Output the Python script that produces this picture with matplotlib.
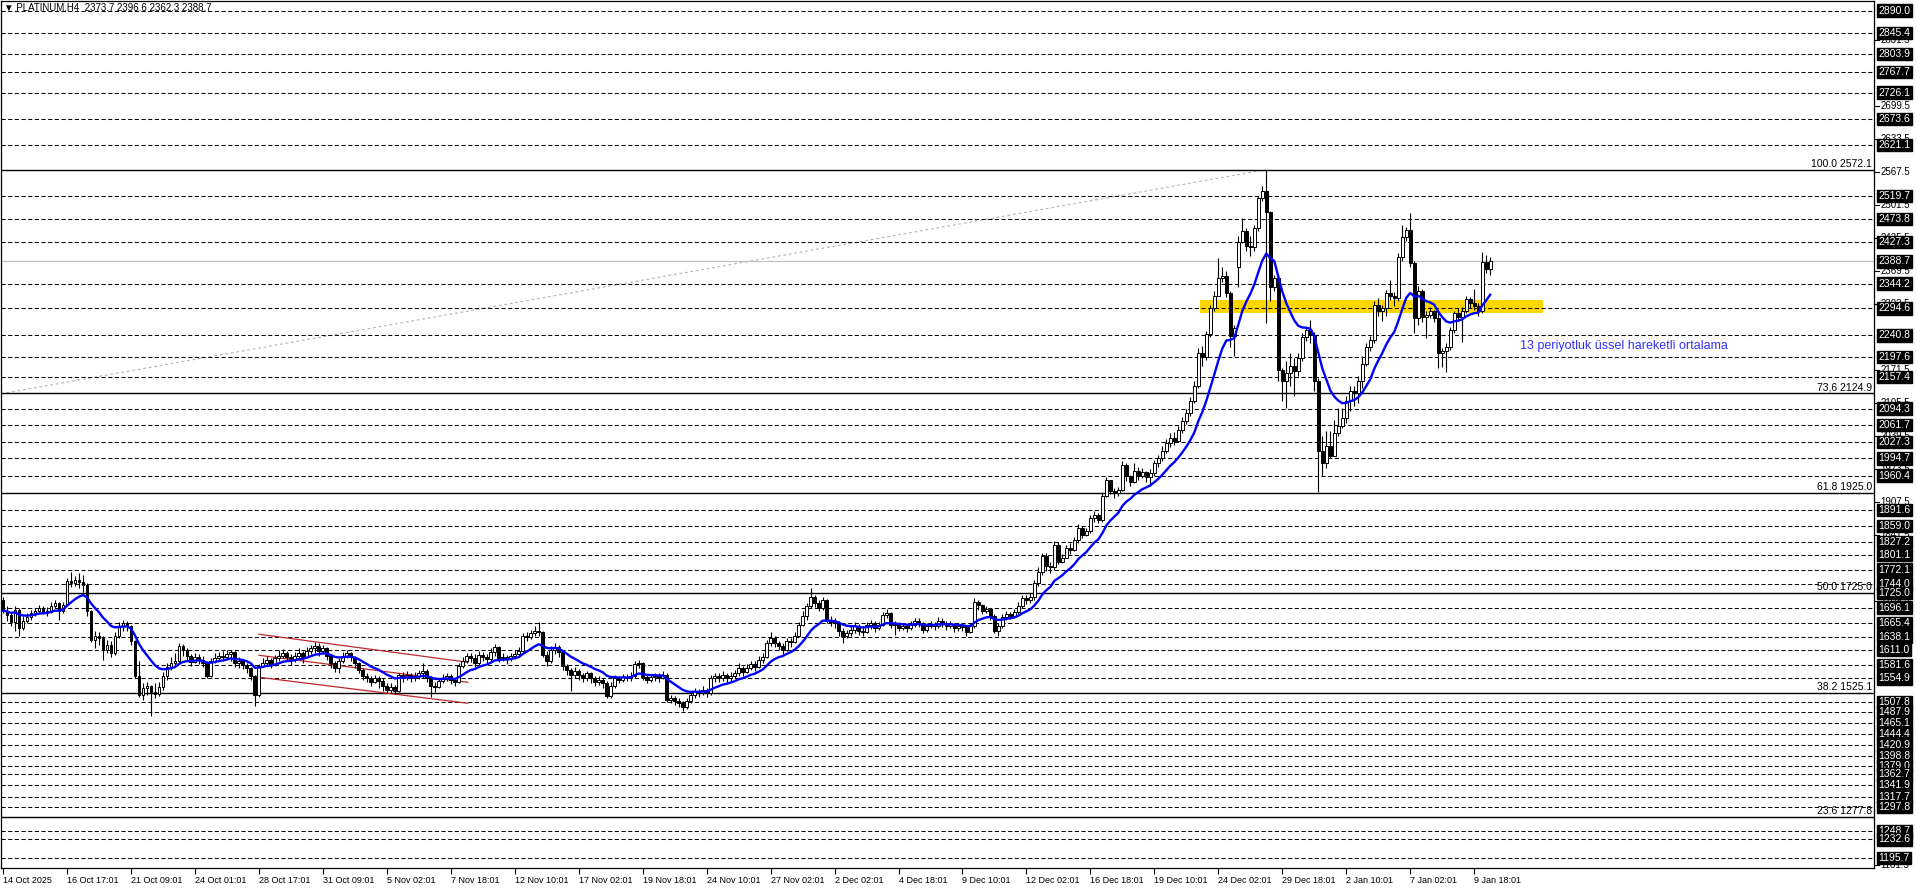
import numpy as np
import pandas as pd
import matplotlib
matplotlib.use('Agg')
import matplotlib.pyplot as plt
import matplotlib.patches as patches
import matplotlib.transforms as mtransforms

# H4 candles, one row of 16 bars per x-axis label
close = [
    1690, 1682, 1668, 1692, 1656, 1670, 1678, 1686, 1690, 1696, 1690, 1688, 1700, 1706, 1690, 1702,
    1750, 1745, 1752, 1748, 1742, 1690, 1632, 1640, 1636, 1612, 1622, 1606, 1640, 1660, 1665, 1660,
    1630, 1560, 1522, 1535, 1540, 1528, 1524, 1538, 1560, 1578, 1585, 1590, 1620, 1612, 1600, 1588,
    1598, 1592, 1585, 1560, 1590, 1596, 1600, 1598, 1604, 1608, 1585, 1590, 1582, 1575, 1560, 1522,
    1580, 1586, 1592, 1582, 1595, 1600, 1606, 1598, 1592, 1600, 1606, 1598, 1610, 1616, 1620, 1610,
    1615, 1600, 1585, 1575, 1590, 1600, 1605, 1598, 1585, 1572, 1560, 1556, 1548, 1556, 1550, 1540,
    1532, 1538, 1530, 1562, 1558, 1562, 1555, 1560, 1565, 1570, 1556, 1540, 1538, 1550, 1556, 1560,
    1552, 1548, 1580, 1590, 1600, 1596, 1585, 1602, 1598, 1594, 1608, 1618, 1596, 1598, 1594, 1600,
    1604, 1610, 1640, 1638, 1645, 1650, 1648, 1602, 1590, 1612, 1618, 1608, 1580, 1572, 1562, 1570,
    1562, 1556, 1565, 1555, 1548, 1552, 1545, 1520, 1540, 1556, 1552, 1558, 1556, 1560, 1584, 1586,
    1558, 1552, 1558, 1560, 1556, 1562, 1512, 1516, 1510, 1506, 1498, 1510, 1522, 1530, 1526, 1532,
    1526, 1556, 1560, 1556, 1562, 1555, 1560, 1566, 1575, 1568, 1576, 1584, 1578, 1592, 1598, 1625,
    1636, 1626, 1620, 1612, 1630, 1628, 1640, 1662, 1680, 1700, 1718, 1706, 1696, 1712, 1672, 1668,
    1665, 1650, 1640, 1645, 1652, 1660, 1650, 1648, 1662, 1666, 1655, 1662, 1682, 1686, 1662, 1664,
    1656, 1660, 1656, 1662, 1670, 1664, 1652, 1660, 1664, 1660, 1670, 1666, 1660, 1664, 1656, 1660,
    1658, 1648, 1660, 1708, 1702, 1690, 1694, 1680, 1650, 1660, 1678, 1684, 1680, 1688, 1700, 1715,
    1712, 1718, 1746, 1768, 1800, 1780, 1778, 1822, 1788, 1796, 1816, 1812, 1832, 1856, 1842, 1850,
    1875, 1882, 1872, 1920, 1952, 1930, 1925, 1932, 1982, 1960, 1948, 1970, 1960, 1968, 1958, 1966,
    1985, 1995, 2010, 2025, 2035, 2030, 2052, 2070, 2085, 2110, 2140, 2205, 2198, 2244, 2295, 2320,
    2356, 2360, 2326, 2240, 2256, 2428, 2450, 2420, 2418, 2455, 2515, 2530, 2488, 2338, 2355, 2172,
    2150, 2165, 2180, 2170, 2195, 2238, 2252, 2242, 2150, 2010, 1985, 2020, 2000, 2045, 2060, 2075,
    2110, 2130, 2125, 2150, 2184, 2218, 2231, 2301, 2290, 2295, 2325, 2320, 2315, 2398, 2438, 2451,
    2385, 2275, 2330, 2278, 2281, 2290, 2276, 2205, 2210, 2218, 2251, 2285, 2278, 2290, 2313, 2306,
    2300, 2290, 2388, 2373.7, 2388.7,
]
high = [
    1718, 1700, 1688, 1700, 1695, 1680, 1685, 1692, 1696, 1702, 1700, 1698, 1708, 1712, 1708, 1708,
    1756, 1768, 1760, 1765, 1762, 1745, 1692, 1650, 1648, 1640, 1632, 1630, 1648, 1668, 1672, 1670,
    1662, 1632, 1590, 1545, 1548, 1542, 1545, 1548, 1568, 1586, 1598, 1605, 1625, 1624, 1615, 1604,
    1606, 1604, 1600, 1590, 1596, 1605, 1608, 1610, 1612, 1612, 1610, 1598, 1594, 1586, 1578, 1562,
    1584, 1596, 1600, 1596, 1602, 1612, 1614, 1610, 1604, 1608, 1616, 1610, 1618, 1622, 1628, 1625,
    1622, 1618, 1604, 1590, 1596, 1608, 1612, 1608, 1600, 1588, 1576, 1566, 1560, 1562, 1560, 1556,
    1545, 1546, 1542, 1566, 1568, 1570, 1566, 1568, 1572, 1585, 1574, 1560, 1548, 1556, 1564, 1566,
    1564, 1556, 1586, 1598, 1606, 1605, 1604, 1610, 1608, 1604, 1615, 1624, 1620, 1606, 1602, 1606,
    1612, 1618, 1645, 1648, 1652, 1660, 1668, 1650, 1610, 1620, 1625, 1622, 1610, 1584, 1576, 1578,
    1574, 1566, 1570, 1568, 1560, 1560, 1556, 1550, 1548, 1562, 1560, 1564, 1564, 1568, 1590, 1592,
    1588, 1562, 1564, 1566, 1566, 1570, 1565, 1522, 1520, 1516, 1510, 1516, 1528, 1536, 1534, 1540,
    1536, 1562, 1566, 1566, 1570, 1566, 1568, 1572, 1585, 1580, 1584, 1590, 1590, 1600, 1605, 1632,
    1648, 1640, 1630, 1625, 1636, 1636, 1648, 1668, 1690, 1706, 1736, 1722, 1712, 1718, 1714, 1680,
    1676, 1670, 1656, 1652, 1660, 1668, 1664, 1660, 1668, 1672, 1670, 1668, 1688, 1694, 1688, 1670,
    1668, 1666, 1664, 1670, 1676, 1676, 1668, 1666, 1670, 1668, 1678, 1676, 1670, 1670, 1666, 1666,
    1664, 1662, 1666, 1716, 1712, 1704, 1700, 1696, 1684, 1666, 1684, 1690, 1688, 1694, 1708, 1722,
    1722, 1726, 1752, 1778, 1806, 1805, 1788, 1830, 1828, 1804, 1822, 1826, 1838, 1864, 1860, 1856,
    1882, 1890, 1886, 1928, 1958, 1952, 1935, 1938, 1990, 1985, 1962, 1985, 1978, 1975, 1970, 1974,
    1992, 2002, 2020, 2034, 2045, 2048, 2060, 2078, 2094, 2118, 2150, 2215, 2220, 2250, 2302, 2330,
    2395, 2378, 2370, 2330, 2262, 2440, 2475, 2455, 2440, 2462, 2520, 2540, 2572, 2490, 2362, 2362,
    2175, 2190, 2205, 2195, 2205, 2245, 2258, 2272, 2248, 2155, 2040, 2050, 2050, 2072, 2095, 2095,
    2120, 2140, 2140, 2160, 2200, 2225, 2240, 2310, 2315, 2302, 2332, 2352, 2328, 2405, 2462, 2458,
    2485, 2390, 2340, 2334, 2290, 2298, 2292, 2292, 2215, 2225, 2258, 2290, 2295, 2298, 2320, 2318,
    2334, 2305, 2408, 2402, 2396.6,
]
low = [
    1685, 1670, 1660, 1650, 1640, 1652, 1665, 1672, 1680, 1686, 1684, 1680, 1686, 1695, 1672, 1685,
    1700, 1738, 1740, 1735, 1728, 1680, 1628, 1615, 1622, 1592, 1605, 1598, 1602, 1636, 1650, 1650,
    1622, 1555, 1518, 1512, 1522, 1480, 1515, 1520, 1532, 1552, 1572, 1578, 1585, 1600, 1592, 1580,
    1585, 1584, 1578, 1556, 1558, 1585, 1590, 1590, 1594, 1590, 1578, 1576, 1574, 1566, 1552, 1500,
    1518, 1578, 1582, 1576, 1580, 1590, 1596, 1590, 1582, 1588, 1596, 1585, 1596, 1604, 1606, 1600,
    1604, 1592, 1576, 1568, 1566, 1585, 1596, 1590, 1575, 1565, 1552, 1548, 1540, 1545, 1535, 1530,
    1525, 1526, 1524, 1528, 1548, 1552, 1548, 1550, 1554, 1556, 1548, 1518, 1528, 1535, 1546, 1550,
    1544, 1540, 1546, 1576, 1585, 1588, 1578, 1582, 1590, 1586, 1590, 1600, 1588, 1590, 1584, 1590,
    1594, 1598, 1608, 1630, 1634, 1640, 1640, 1598, 1580, 1585, 1604, 1598, 1572, 1562, 1530, 1556,
    1552, 1548, 1550, 1545, 1540, 1542, 1536, 1515, 1516, 1535, 1545, 1548, 1550, 1550, 1556, 1575,
    1552, 1546, 1548, 1550, 1548, 1554, 1508, 1505, 1502, 1498, 1490, 1494, 1506, 1516, 1518, 1522,
    1518, 1522, 1548, 1548, 1550, 1548, 1550, 1555, 1560, 1560, 1565, 1572, 1570, 1575, 1585, 1596,
    1620, 1618, 1612, 1604, 1610, 1618, 1625, 1638, 1660, 1672, 1696, 1698, 1690, 1692, 1665, 1660,
    1656, 1640, 1625, 1635, 1640, 1645, 1642, 1640, 1646, 1654, 1648, 1652, 1660, 1676, 1655, 1642,
    1650, 1652, 1648, 1652, 1658, 1658, 1646, 1648, 1656, 1652, 1655, 1658, 1652, 1656, 1648, 1650,
    1650, 1640, 1645, 1656, 1692, 1684, 1686, 1672, 1645, 1640, 1656, 1672, 1674, 1676, 1684, 1696,
    1704, 1706, 1712, 1740, 1762, 1770, 1765, 1772, 1784, 1785, 1796, 1804, 1810, 1826, 1836, 1840,
    1846, 1868, 1866, 1868, 1918, 1924, 1916, 1920, 1930, 1950, 1940, 1945, 1952, 1955, 1948, 1940,
    1960, 1978, 1990, 2005, 2018, 2022, 2028, 2046, 2064, 2080, 2105, 2135, 2180, 2192, 2238, 2290,
    2322, 2348, 2318, 2218, 2200, 2338, 2425, 2410, 2400, 2410, 2450, 2510, 2265, 2310, 2330, 2150,
    2110, 2095, 2140, 2120, 2160, 2190, 2230, 2225, 2130, 1928, 1960, 1975, 1995, 2000, 2040, 2055,
    2065, 2090, 2100, 2105, 2135, 2180, 2210, 2225, 2280, 2270, 2280, 2312, 2300, 2310, 2390, 2430,
    2378, 2245, 2262, 2268, 2235, 2275, 2268, 2175, 2178, 2168, 2212, 2245, 2270, 2228, 2285, 2295,
    2292, 2280, 2285, 2365, 2362.3,
]
# opens that differ from the previous close (first bar, holiday gap)
open_gaps = {0: 1711, 309: 2378}

time_labels = ['14 Oct 2025', '16 Oct 17:01', '21 Oct 09:01', '24 Oct 01:01', '28 Oct 17:01',
               '31 Oct 09:01', '5 Nov 02:01', '7 Nov 18:01', '12 Nov 10:01', '17 Nov 02:01',
               '19 Nov 18:01', '24 Nov 10:01', '27 Nov 02:01', '2 Dec 02:01', '4 Dec 18:01',
               '9 Dec 10:01', '12 Dec 02:01', '16 Dec 18:01', '19 Dec 10:01', '24 Dec 02:01',
               '29 Dec 18:01', '2 Jan 10:01', '7 Jan 02:01', '9 Jan 18:01']
bars_per_label = 16

level_lines = [2890.0, 2845.4, 2803.9, 2767.7, 2726.1, 2673.6, 2621.1, 2519.7, 2473.8, 2427.3,
               2344.2, 2294.6, 2240.8, 2197.6, 2157.4, 2094.3, 2061.7, 2027.3, 1994.7, 1960.4,
               1891.6, 1859.0, 1827.2, 1801.1, 1772.1, 1744.0, 1696.1, 1665.4, 1638.1, 1611.0,
               1581.6, 1554.9, 1507.8, 1487.9, 1465.1, 1444.4, 1420.9, 1398.8, 1379.0, 1362.7,
               1341.9, 1317.7, 1297.8, 1248.7, 1232.6, 1195.7]
fib_names = ['100.0', '73,6', '61.8', '50.0', '38.2', '23.6']
fib_prices = [2572.1, 2124.9, 1925.0, 1725.0, 1525.1, 1277.8]
# scale labels that are not fully covered by the black level boxes
price_ticks = [2831.5, 2699.5, 2633.5, 2567.5, 2501.5, 2435.5, 2369.5, 2303.5,
               2171.5, 2105.5, 2039.5, 1973.5, 1907.5, 1841.5, 1709.5, 1181.5]
bid_price = 2388.7
header = '\u25bc PLATINUM,H4  2373.7 2396.6 2362.3 2388.7'

zone_bars = [299.5, 385.25]
zone_prices = [2286, 2311]
channel_bars = [64, 116.25]
channel_upper = [1643, 1587]
channel_mid = [1601, 1547]
channel_lower = [1557, 1505]
fib_trend_bars = [-0.5, 316]
fib_trend_prices = [2124, 2572.1]
ema_note = '13 periyotluk üssel hareketli ortalama'
ema_note_pos = (379.5, 2219)

plt.rcParams['font.family'] = ['Liberation Sans', 'DejaVu Sans']
plt.rcParams['lines.scale_dashes'] = False


def draw_candles(ax):
    c = np.array(close, dtype=float)
    o = np.r_[c[0], c[:-1]]
    for i, v in open_gaps.items():
        o[i] = v
    h = np.maximum.reduce([np.array(high, dtype=float), o, c])
    l = np.minimum.reduce([np.array(low, dtype=float), o, c])
    x = np.arange(len(c))
    up = c >= o
    ax.vlines(x, l, h, color='black', lw=0.8, zorder=3)
    body = np.maximum(np.abs(c - o), 1.2)
    ax.bar(x, body, bottom=np.minimum(o, c), width=0.7,
           color=np.where(up, 'white', 'black'), edgecolor='black', lw=0.7, zorder=4)
    ema = pd.Series(c).ewm(span=13, adjust=False).mean()
    ax.plot(x, ema, color='#0000ff', lw=1.7, zorder=5)


def main():
    W, H = 1916, 888
    fig = plt.figure(figsize=(W / 100, H / 100), dpi=100)
    ax = fig.add_axes([1 / W, 20 / H, 1873 / W, 867 / H])
    ax.set_xlim(-0.5, 468)
    ax.set_ylim(1175.5, 2909.5)

    dash = (0, (3.0, 1.8))
    ax.hlines(level_lines, -0.5, 468, colors='black', linestyles=[dash], lw=0.75, zorder=2)
    ax.hlines(fib_prices, -0.5, 468, colors='black', lw=1.0, zorder=2)
    ax.axhline(bid_price, color='#c0c0c0', lw=0.9, zorder=1)
    ax.plot(fib_trend_bars, fib_trend_prices, color='#b4b4b4', lw=0.8,
            linestyle=(0, (2, 2)), zorder=1)
    for name, p in zip(fib_names, fib_prices):
        ax.text(467.5, p + 1.5, f'{name} {p:.1f}', ha='right', va='bottom', fontsize=7.5, zorder=6)

    ax.add_patch(patches.Rectangle((zone_bars[0], zone_prices[0]), zone_bars[1] - zone_bars[0],
                                   zone_prices[1] - zone_prices[0], fc='#ffd700', ec='none', zorder=1.5))
    for line in (channel_upper, channel_mid, channel_lower):
        ax.plot(channel_bars, line, color='#c0282d', lw=0.9, zorder=2.5)

    draw_candles(ax)

    ax.text(ema_note_pos[0], ema_note_pos[1], ema_note, color='#3030ff', fontsize=9,
            ha='left', va='center', zorder=6)

    # x axis (time)
    ticks = np.arange(len(time_labels)) * bars_per_label
    ax.set_xticks(ticks)
    ax.set_xticklabels(time_labels, ha='left', fontsize=6.5)
    ax.tick_params(axis='x', length=4, width=0.8, pad=1.5, direction='out')
    ax.set_yticks([])
    for s in ax.spines.values():
        s.set_linewidth(0.9)
        s.set_color('black')

    # right price scale
    trans = mtransforms.blended_transform_factory(ax.transAxes, ax.transData)
    for p in price_ticks:
        ax.plot([1.0, 1.0025], [p, p], transform=trans, color='black', lw=0.8, clip_on=False)
        ax.text(1.0035, p, f'{p:.1f}', transform=trans, fontsize=7, ha='left', va='center',
                clip_on=False)
    for p in level_lines + [1725.0, bid_price]:
        ax.text(1.0025, p, f'{p:.1f}', transform=trans, fontsize=7.5, color='white', ha='left',
                va='center', clip_on=False, zorder=10,
                bbox=dict(boxstyle='square,pad=0.12', fc='black', ec='black'))

    fig.text(4 / W, 1 - 7 / H, header, fontsize=7, ha='left', va='center')
    fig.savefig('out.png', dpi=100, facecolor='white')
    plt.close(fig)


if __name__ == '__main__':
    main()
